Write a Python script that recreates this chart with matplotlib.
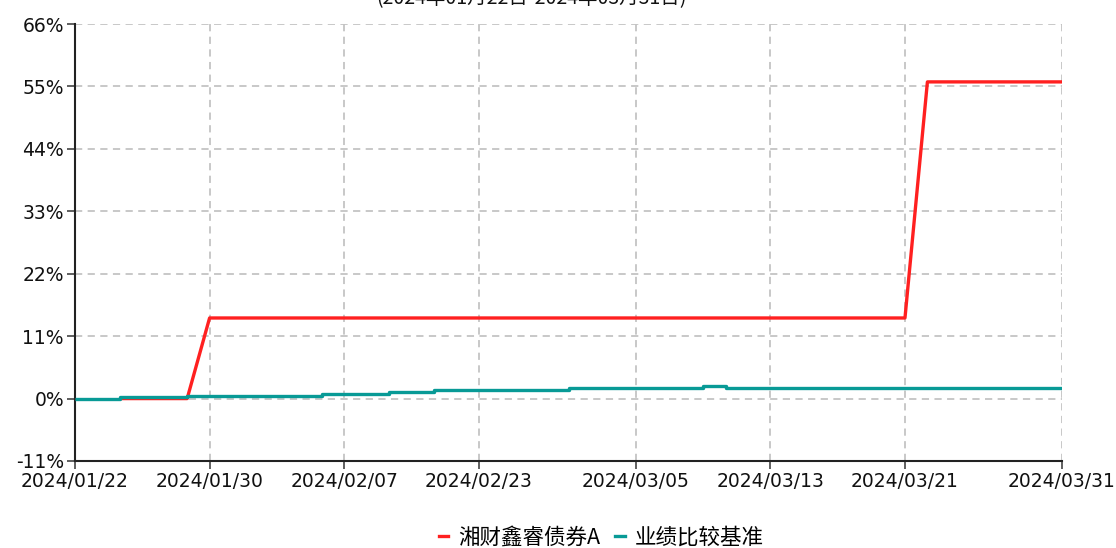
import numpy as np
import matplotlib.pyplot as plt
from matplotlib.lines import Line2D

plt.rcParams['font.family'] = ['DejaVu Sans', 'Noto Sans CJK SC']

# trading days in the period (last point is the period end date)
dates = ['2024/01/22', '2024/01/23', '2024/01/24', '2024/01/25', '2024/01/26',
         '2024/01/29', '2024/01/30', '2024/01/31', '2024/02/01', '2024/02/02',
         '2024/02/05', '2024/02/06', '2024/02/07', '2024/02/08', '2024/02/19',
         '2024/02/20', '2024/02/21', '2024/02/22', '2024/02/23', '2024/02/26',
         '2024/02/27', '2024/02/28', '2024/02/29', '2024/03/01', '2024/03/04',
         '2024/03/05', '2024/03/06', '2024/03/07', '2024/03/08', '2024/03/11',
         '2024/03/12', '2024/03/13', '2024/03/14', '2024/03/15', '2024/03/18',
         '2024/03/19', '2024/03/20', '2024/03/21', '2024/03/22', '2024/03/25',
         '2024/03/26', '2024/03/27', '2024/03/28', '2024/03/29', '2024/03/31']

# fund return (%), starts on 01/24
fund = [np.nan, np.nan, 0.0, 0.0, 0.0,
        0.0, 14.2, 14.2, 14.2, 14.2,
        14.2, 14.2, 14.2, 14.2, 14.2,
        14.2, 14.2, 14.2, 14.2, 14.2,
        14.2, 14.2, 14.2, 14.2, 14.2,
        14.2, 14.2, 14.2, 14.2, 14.2,
        14.2, 14.2, 14.2, 14.2, 14.2,
        14.2, 14.2, 14.2, 55.8, 55.8,
        55.8, 55.8, 55.8, 55.8, 55.8]

# benchmark return (%)
bench = [0.0, 0.0, 0.3, 0.3, 0.3,
         0.45, 0.45, 0.45, 0.45, 0.45,
         0.45, 0.87, 0.87, 0.87, 1.22,
         1.22, 1.5, 1.5, 1.5, 1.5,
         1.5, 1.5, 1.85, 1.85, 1.85,
         1.85, 1.85, 1.85, 2.2, 1.85,
         1.85, 1.85, 1.85, 1.85, 1.85,
         1.85, 1.85, 1.85, 1.85, 1.85,
         1.85, 1.85, 1.85, 1.85, 1.85]

tick_dates = ['2024/01/22', '2024/01/30', '2024/02/07', '2024/02/23',
              '2024/03/05', '2024/03/13', '2024/03/21', '2024/03/31']
yticks = [-11, 0, 11, 22, 33, 44, 55, 66]

fund_label = '湘财鑫睿债券A'
bench_label = '业绩比较基准'
red = '#ff2020'
teal = '#089a96'

x = np.arange(len(dates))

fig = plt.figure(figsize=(11.16, 5.48), dpi=100)
ax = fig.add_axes((75 / 1116, 1 - 461 / 548, 987 / 1116, 437 / 548))

ax.plot(x, fund, color=red, lw=2.4, zorder=3, solid_capstyle='butt')
ax.plot(x, bench, color=teal, lw=2.4, zorder=4, solid_capstyle='butt',
        drawstyle='steps-post')

ax.set_xlim(0, len(dates) - 1)
ax.set_ylim(-11, 66)
ax.set_xticks([dates.index(d) for d in tick_dates])
ax.set_xticklabels(tick_dates)
ax.set_yticks(yticks)
ax.set_yticklabels([f'{v}%' for v in yticks])

ax.grid(True, color='#c4c4c4', linestyle=(0, (4, 3)), linewidth=1.3)
ax.set_axisbelow(True)
for s in ['top', 'right']:
    ax.spines[s].set_visible(False)
for s in ['left', 'bottom']:
    ax.spines[s].set_color('#222222')
    ax.spines[s].set_linewidth(1.5)
ax.tick_params(axis='both', length=6, width=1.2, color='#444444',
               labelsize=13.5, labelcolor='#111111', pad=2)

fig.text(531 / 1116, 1.002, '(2024年01月22日-2024年03月31日)', ha='center',
         va='center', fontsize=14, color='#111111',
         family=['Noto Sans CJK SC', 'DejaVu Sans'])

handles = [Line2D([], [], color=red, lw=2.4), Line2D([], [], color=teal, lw=2.4)]
fig.legend(handles, [fund_label, bench_label], loc='center', ncol=2,
           bbox_to_anchor=(601 / 1116, 1 - 538 / 548), frameon=False,
           handlelength=0.45, handletextpad=0.45, columnspacing=0.7,
           prop={'family': ['Noto Sans CJK SC', 'DejaVu Sans'], 'size': 15.5})

fig.savefig('out.png', dpi=100)
